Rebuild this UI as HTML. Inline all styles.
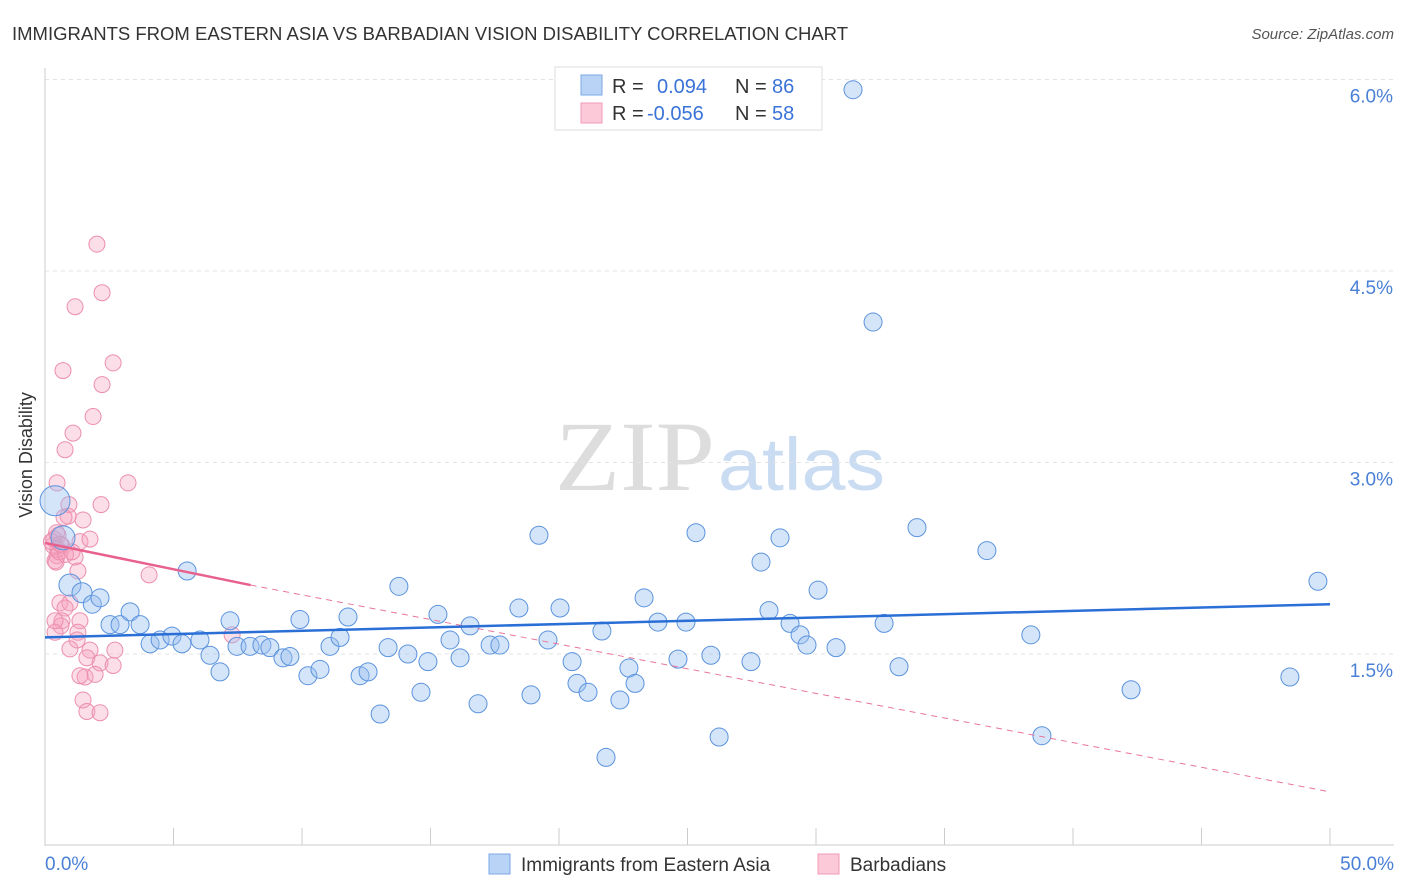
<!DOCTYPE html>
<html><head><meta charset="utf-8"><style>
body{margin:0;background:#fff;font-family:"Liberation Sans",sans-serif;}
#wrap{position:relative;width:1406px;height:892px;overflow:hidden}
</style></head><body>
<div id="wrap">
<svg id="svg" width="1406" height="892">
<text x="12" y="40" font-size="18" fill="#333" textLength="836" lengthAdjust="spacingAndGlyphs">IMMIGRANTS FROM EASTERN ASIA VS BARBADIAN VISION DISABILITY CORRELATION CHART</text>
<text x="1394" y="39" font-size="15" fill="#555" font-style="italic" text-anchor="end">Source: ZipAtlas.com</text>
<text x="32" y="455" font-size="18" fill="#333" transform="rotate(-90 32 455)" text-anchor="middle">Vision Disability</text>
<text x="555" y="490" font-size="100" fill="#ddd" font-family="Liberation Serif,serif" textLength="160" lengthAdjust="spacingAndGlyphs">ZIP</text>
<text x="718" y="490" font-size="74" fill="#c9dcf2" textLength="167" lengthAdjust="spacingAndGlyphs">atlas</text>
<g id="grid"></g><g id="marks"></g>
<g>
<rect x="555" y="67" width="267" height="63" fill="#fff" stroke="#ddd"/>
<rect x="581" y="75" width="21" height="20" fill="#b8d3f5" stroke="#7aa8e3"/>
<rect x="581" y="103" width="21" height="20" fill="#fbc9d8" stroke="#f29ab7"/>
<text x="612" y="93" font-size="20" fill="#333">R =</text><text x="657" y="93" font-size="20" fill="#3a73d8">0.094</text>
<text x="735" y="93" font-size="20" fill="#333">N =</text><text x="772" y="93" font-size="20" fill="#3a73d8">86</text>
<text x="612" y="120" font-size="20" fill="#333">R =</text><text x="647" y="120" font-size="20" fill="#3a73d8">-0.056</text>
<text x="735" y="120" font-size="20" fill="#333">N =</text><text x="772" y="120" font-size="20" fill="#3a73d8">58</text>
</g>
<g>
<rect x="489" y="854" width="21" height="20" fill="#b8d3f5" stroke="#7aa8e3"/>
<text x="521" y="871" font-size="19" fill="#333">Immigrants from Eastern Asia</text>
<rect x="818" y="854" width="21" height="20" fill="#fbc9d8" stroke="#f29ab7"/>
<text x="850" y="871" font-size="19" fill="#333">Barbadians</text>
</g>
</svg>
</div>
<script>
const xTicks=[0,5,10,15,20,25,30,35,40,45,50];
const yTicks=[1.5,3.0,4.5,6.0];
const yTickLabels=["1.5%","3.0%","4.5%","6.0%"];
const xEndLabels=["0.0%","50.0%"];
const blueX=[0.39,0.70,0.97,1.44,1.84,2.14,2.53,2.92,3.31,3.70,4.09,4.48,4.94,5.33,5.53,6.03,6.42,6.81,7.20,7.47,7.98,8.44,8.75,9.26,9.53,9.92,10.23,10.70,11.09,11.48,11.79,12.26,12.57,13.04,13.35,13.77,14.12,14.63,14.90,15.29,15.76,16.15,16.54,16.85,17.32,17.70,18.44,18.91,19.22,19.57,20.04,20.51,20.70,21.13,21.67,21.83,22.37,22.72,22.96,23.31,23.85,24.63,24.94,25.33,25.91,26.23,27.47,27.86,28.17,28.60,28.99,29.38,29.65,30.08,30.78,31.44,32.22,32.65,33.23,33.93,36.65,38.36,38.79,42.26,48.44,49.53];
const blueY=[2.70,2.41,2.04,1.98,1.89,1.94,1.73,1.73,1.83,1.73,1.58,1.61,1.64,1.58,2.15,1.61,1.49,1.36,1.76,1.56,1.56,1.57,1.55,1.47,1.48,1.77,1.33,1.38,1.56,1.63,1.79,1.33,1.36,1.03,1.55,2.03,1.50,1.20,1.44,1.81,1.61,1.47,1.72,1.11,1.57,1.57,1.86,1.18,2.43,1.61,1.86,1.44,1.27,1.20,1.68,0.69,1.14,1.39,1.27,1.94,1.75,1.46,1.75,2.45,1.49,0.85,1.44,2.22,1.84,2.41,1.74,1.65,1.57,2.00,1.55,5.92,4.10,1.74,1.40,2.49,2.31,1.65,0.86,1.22,1.32,2.07];
const blueR=[15,12,11,10,9,9,9,9,9,9,9,9,9,9,9,9,9,9,9,9,9,9,9,9,9,9,9,9,9,9,9,9,9,9,9,9,9,9,9,9,9,9,9,9,9,9,9,9,9,9,9,9,9,9,9,9,9,9,9,9,9,9,9,9,9,9,9,9,9,9,9,9,9,9,9,9,9,9,9,9,9,9,9,9,9,9];
const pinkX=[2.02,2.22,1.17,2.65,0.70,2.22,1.87,1.09,0.78,0.47,3.23,2.18,0.93,1.48,0.90,0.51,0.31,0.47,0.66,0.39,1.17,1.28,4.05,0.43,0.58,0.97,0.78,0.66,1.36,1.28,0.62,0.39,1.25,2.72,0.97,1.75,1.63,2.14,2.65,1.56,1.95,1.36,1.48,1.63,2.14,7.28,0.39,0.74,1.36,1.75,0.35,0.50,0.55,0.80,0.25,0.45,0.60,1.05];
const pinkY=[4.71,4.33,4.22,3.78,3.72,3.61,3.36,3.23,3.10,2.84,2.84,2.67,2.67,2.55,2.58,2.43,2.35,2.27,2.35,2.23,2.26,2.15,2.12,2.22,1.90,1.90,1.86,1.76,1.76,1.67,1.72,1.67,1.61,1.53,1.54,1.53,1.47,1.43,1.41,1.32,1.34,1.33,1.14,1.05,1.04,1.65,1.76,2.57,2.38,2.40,2.40,2.32,2.30,2.28,2.38,2.45,2.36,2.30];
const X=v=>45+v/50*1285, Y=v=>845.5-v*127.67;
const NS='http://www.w3.org/2000/svg';
const grid=document.getElementById('grid'), marks=document.getElementById('marks'), svg=document.getElementById('svg');
function mk(t,a,p){const e=document.createElementNS(NS,t);for(const k in a)e.setAttribute(k,a[k]);(p||svg).appendChild(e);return e;}
const ax=mk('line',{x1:45,y1:68,x2:45,y2:846,stroke:'#ccc'},grid);

const bx=mk('line',{x1:45,y1:845,x2:1394,y2:845,stroke:'#ccc'},grid);

yTicks.forEach((t,i)=>{
 const g=mk('line',{x1:45,y1:Y(t),x2:1394,y2:Y(t),stroke:'#e3e3e3','stroke-dasharray':'4,4'},grid);
 
 const l=mk('text',{x:1393,y:Y(t)+23,'font-size':19,fill:'#4a7fd6','text-anchor':'end'},grid);l.textContent=yTickLabels[i];
 
});
xTicks.forEach(t=>{const k=mk('line',{x1:X(t),y1:828,x2:X(t),y2:845,stroke:'#ccc'},grid);
 });
const xl0=mk('text',{x:45,y:870,'font-size':19,fill:'#4a7fd6'},grid);xl0.textContent=xEndLabels[0];

const xl1=mk('text',{x:1394,y:870,'font-size':19,fill:'#4a7fd6','text-anchor':'end'},grid);xl1.textContent=xEndLabels[1];

pinkX.forEach((v,i)=>{const c=mk('circle',{cx:X(v),cy:Y(pinkY[i]),r:8,fill:'rgba(246,160,190,0.35)',stroke:'#ec8fae','stroke-width':1},marks);
 });
blueX.forEach((v,i)=>{const c=mk('circle',{cx:X(v),cy:Y(blueY[i]),r:blueR[i],fill:'rgba(150,190,240,0.4)',stroke:'#5b93dd','stroke-width':1},marks);
 });
const pd=mk('line',{x1:X(8),y1:Y(2.04),x2:X(50),y2:Y(0.42),stroke:'#e8769c','stroke-width':1,'stroke-dasharray':'6,5'},marks);

const ps=mk('line',{x1:X(0),y1:Y(2.37),x2:X(8),y2:Y(2.04),stroke:'#e8608c','stroke-width':2.5},marks);

const bt=mk('line',{x1:X(0),y1:Y(1.63),x2:X(50),y2:Y(1.89),stroke:'#2a6fd6','stroke-width':2.5},marks);

</script>
</body></html>
